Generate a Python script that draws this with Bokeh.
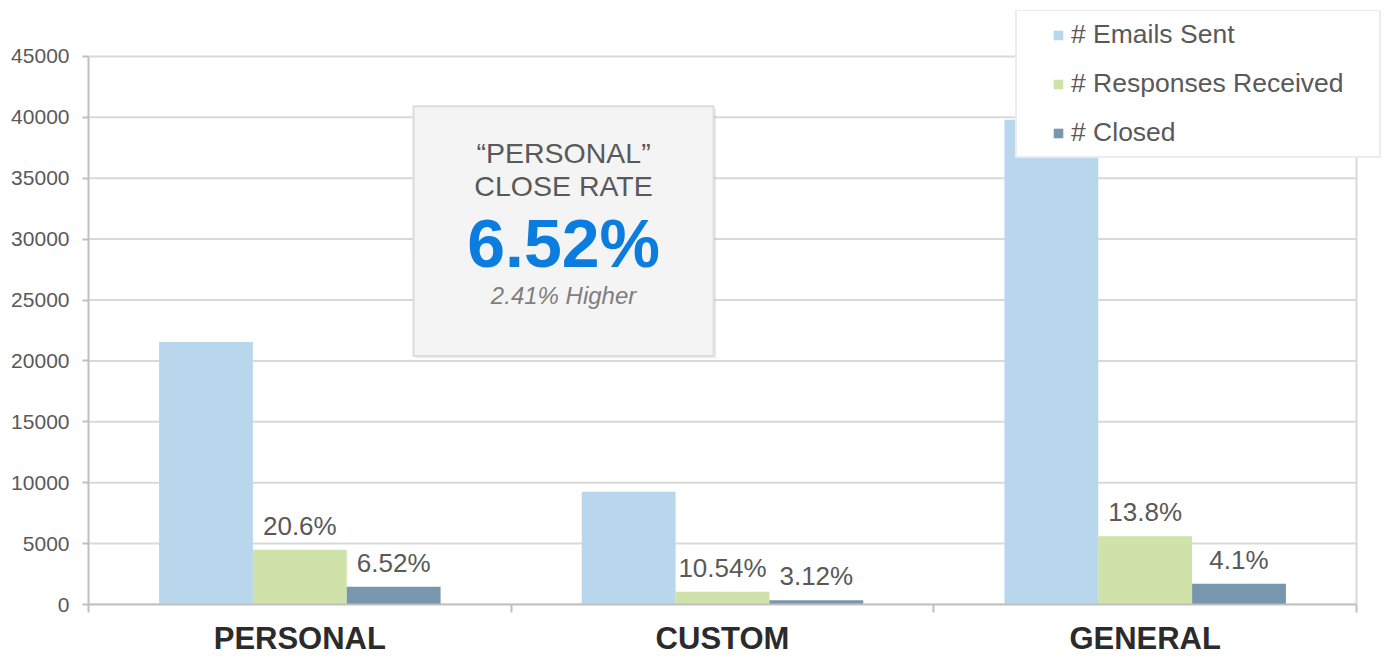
from bokeh.plotting import figure
from bokeh.models import (Range1d, FixedTicker, Legend, LegendItem, NumeralTickFormatter,
                          ColumnDataSource)
from bokeh.core.properties import value
from bokeh.embed import file_html
from bokeh.resources import INLINE

# ---------------- data ----------------
categories = ["PERSONAL", "CUSTOM", "GENERAL"]
series_names = ["# Emails Sent", "# Responses Received", "# Closed"]
emails_sent = [21550, 9250, 39800]
responses_received = [4500, 1050, 5600]
closed = [1450, 350, 1700]
response_labels = ["20.6%", "10.54%", "13.8%"]
closed_labels = ["6.52%", "3.12%", "4.1%"]
y_ticks = [0, 5000, 10000, 15000, 20000, 25000, 30000, 35000, 40000, 45000]
callout_lines = ["\u201cPERSONAL\u201d", "CLOSE RATE", "6.52%", "2.41% Higher"]

# ---------------- style / layout ----------------
FONT = "Liberation Sans"
GREY_TXT = "#595959"
GRID = "#D9D9D9"
AXIS = "#BFBFBF"
COLORS = ["#B9D7EC", "#CFE2A9", "#7896AD"]
BAR_W = 0.222

W, H = 1388, 658
PLOT_L, PLOT_R, PLOT_T, PLOT_B = 88, 1356, 56, 605   # visible chart area (px)
FRAME_T, FRAME_R = 10, 1384                          # frame enlarged so legend is not clipped
Y_MAX = 45000
N_CAT = len(categories)
y_top = Y_MAX * (PLOT_B - FRAME_T) / (PLOT_B - PLOT_T)
x_right = N_CAT * (FRAME_R - PLOT_L) / (PLOT_R - PLOT_L)

p = figure(width=W, height=H, output_backend="svg", toolbar_location=None,
           x_range=Range1d(0, x_right), y_range=Range1d(0, y_top),
           min_border_left=PLOT_L, min_border_right=W - FRAME_R,
           min_border_top=FRAME_T, min_border_bottom=H - PLOT_B)
p.background_fill_color = "white"
p.border_fill_color = "white"
p.outline_line_color = None
p.xgrid.visible = False
p.ygrid.visible = False

# horizontal grid lines and right border of the chart area
p.segment(x0=[0] * len(y_ticks), x1=[N_CAT] * len(y_ticks), y0=y_ticks, y1=y_ticks,
          line_color=GRID, line_width=2)
p.segment(x0=[N_CAT], x1=[N_CAT], y0=[0], y1=[Y_MAX], line_color=GRID, line_width=2)

# x axis: category names at centers, tick marks at boundaries
centers = [i + 0.5 for i in range(N_CAT)]
xa = p.xaxis[0]
xa.bounds = (0, N_CAT)
xa.ticker = FixedTicker(ticks=centers, minor_ticks=list(range(N_CAT + 1)))
xa.major_label_overrides = {c: name for c, name in zip(centers, categories)}
xa.major_tick_line_color = None
xa.major_tick_out = 0
xa.major_tick_in = 0
xa.minor_tick_out = 8
xa.minor_tick_in = 0
xa.minor_tick_line_color = AXIS
xa.minor_tick_line_width = 2
xa.axis_line_color = AXIS
xa.axis_line_width = 2
xa.major_label_text_font = FONT
xa.major_label_text_font_size = "31px"
xa.major_label_text_font_style = "bold"
xa.major_label_text_color = "#2B2B2B"
xa.major_label_standoff = 8

ya = p.yaxis[0]
ya.bounds = (0, Y_MAX)
ya.ticker = FixedTicker(ticks=y_ticks, minor_ticks=[])
ya.formatter = NumeralTickFormatter(format="0")
ya.axis_line_color = AXIS
ya.axis_line_width = 2
ya.major_tick_out = 6
ya.major_tick_in = 0
ya.major_tick_line_color = AXIS
ya.major_tick_line_width = 2
ya.minor_tick_line_color = None
ya.major_label_text_font = FONT
ya.major_label_text_font_size = "21px"
ya.major_label_text_color = GREY_TXT
ya.major_label_standoff = 13

# ---------------- bars ----------------
series = [emails_sent, responses_received, closed]
renderers = []
for k, (vals, col) in enumerate(zip(series, COLORS)):
    xs = [c + (k - 1) * BAR_W for c in centers]
    src = ColumnDataSource(dict(x=xs, top=vals))
    r = p.vbar(x="x", top="top", width=BAR_W, bottom=0, source=src,
               fill_color=col, line_color=None)
    renderers.append(r)

# percentage labels
for k, (vals, labs) in [(1, (responses_received, response_labels)), (2, (closed, closed_labels))]:
    xs = [c + (k - 1) * BAR_W for c in centers]
    src = ColumnDataSource(dict(x=xs, y=vals, t=labs))
    p.text(x="x", y="y", text="t", source=src, text_align="center",
           text_baseline="middle", y_offset=-24,
           text_font=value(FONT), text_font_size="26px", text_color=GREY_TXT)

# ---------------- callout box ----------------
BOX_L, BOX_R, BOX_B, BOX_T = 0.769, 1.479, 20410, 40900
p.quad(left=[BOX_L + 0.006], right=[BOX_R + 0.006], bottom=[BOX_B - 200], top=[BOX_T - 200],
       fill_color="#000000", fill_alpha=0.08, line_color=None)
p.quad(left=[BOX_L], right=[BOX_R], bottom=[BOX_B], top=[BOX_T],
       fill_color="#F4F4F4", line_color="#DCDCDC", line_width=2)
CX = (BOX_L + BOX_R) / 2
p.text(x=[CX], y=[37100], text=[callout_lines[0]], text_align="center",
       text_baseline="middle", text_font=value(FONT), text_font_size="28.5px",
       text_color=GREY_TXT)
p.text(x=[CX], y=[34400], text=[callout_lines[1]], text_align="center",
       text_baseline="middle", text_font=value(FONT), text_font_size="28.5px",
       text_color=GREY_TXT)
p.text(x=[CX], y=[29700], text=[callout_lines[2]], text_align="center",
       text_baseline="middle", text_font=value(FONT), text_font_size="68px",
       text_font_style="bold", text_color="#0B7DDF")
p.text(x=[CX], y=[25330], text=[callout_lines[3]], text_align="center",
       text_baseline="middle", text_font=value(FONT), text_font_size="24px",
       text_font_style="italic", text_color="#7F7F7F")

# ---------------- legend ----------------
legend = Legend(items=[LegendItem(label=n, renderers=[r]) for n, r in zip(series_names, renderers)],
                location=(1015 - PLOT_L, PLOT_B - 159))
legend.margin = 0
try:
    legend.padding = (35, 8)
except Exception:
    legend.padding = 8
legend.spacing = 18
legend.label_height = 30
legend.glyph_width = 12
legend.glyph_height = 12
legend.label_standoff = 7
legend.label_text_font = FONT
legend.label_text_font_size = "26.5px"
legend.label_text_color = GREY_TXT
legend.border_line_color = GRID
legend.border_line_width = 2
legend.background_fill_color = "white"
legend.background_fill_alpha = 1
p.add_layout(legend)

open("out.html", "w").write(file_html(p, INLINE))
